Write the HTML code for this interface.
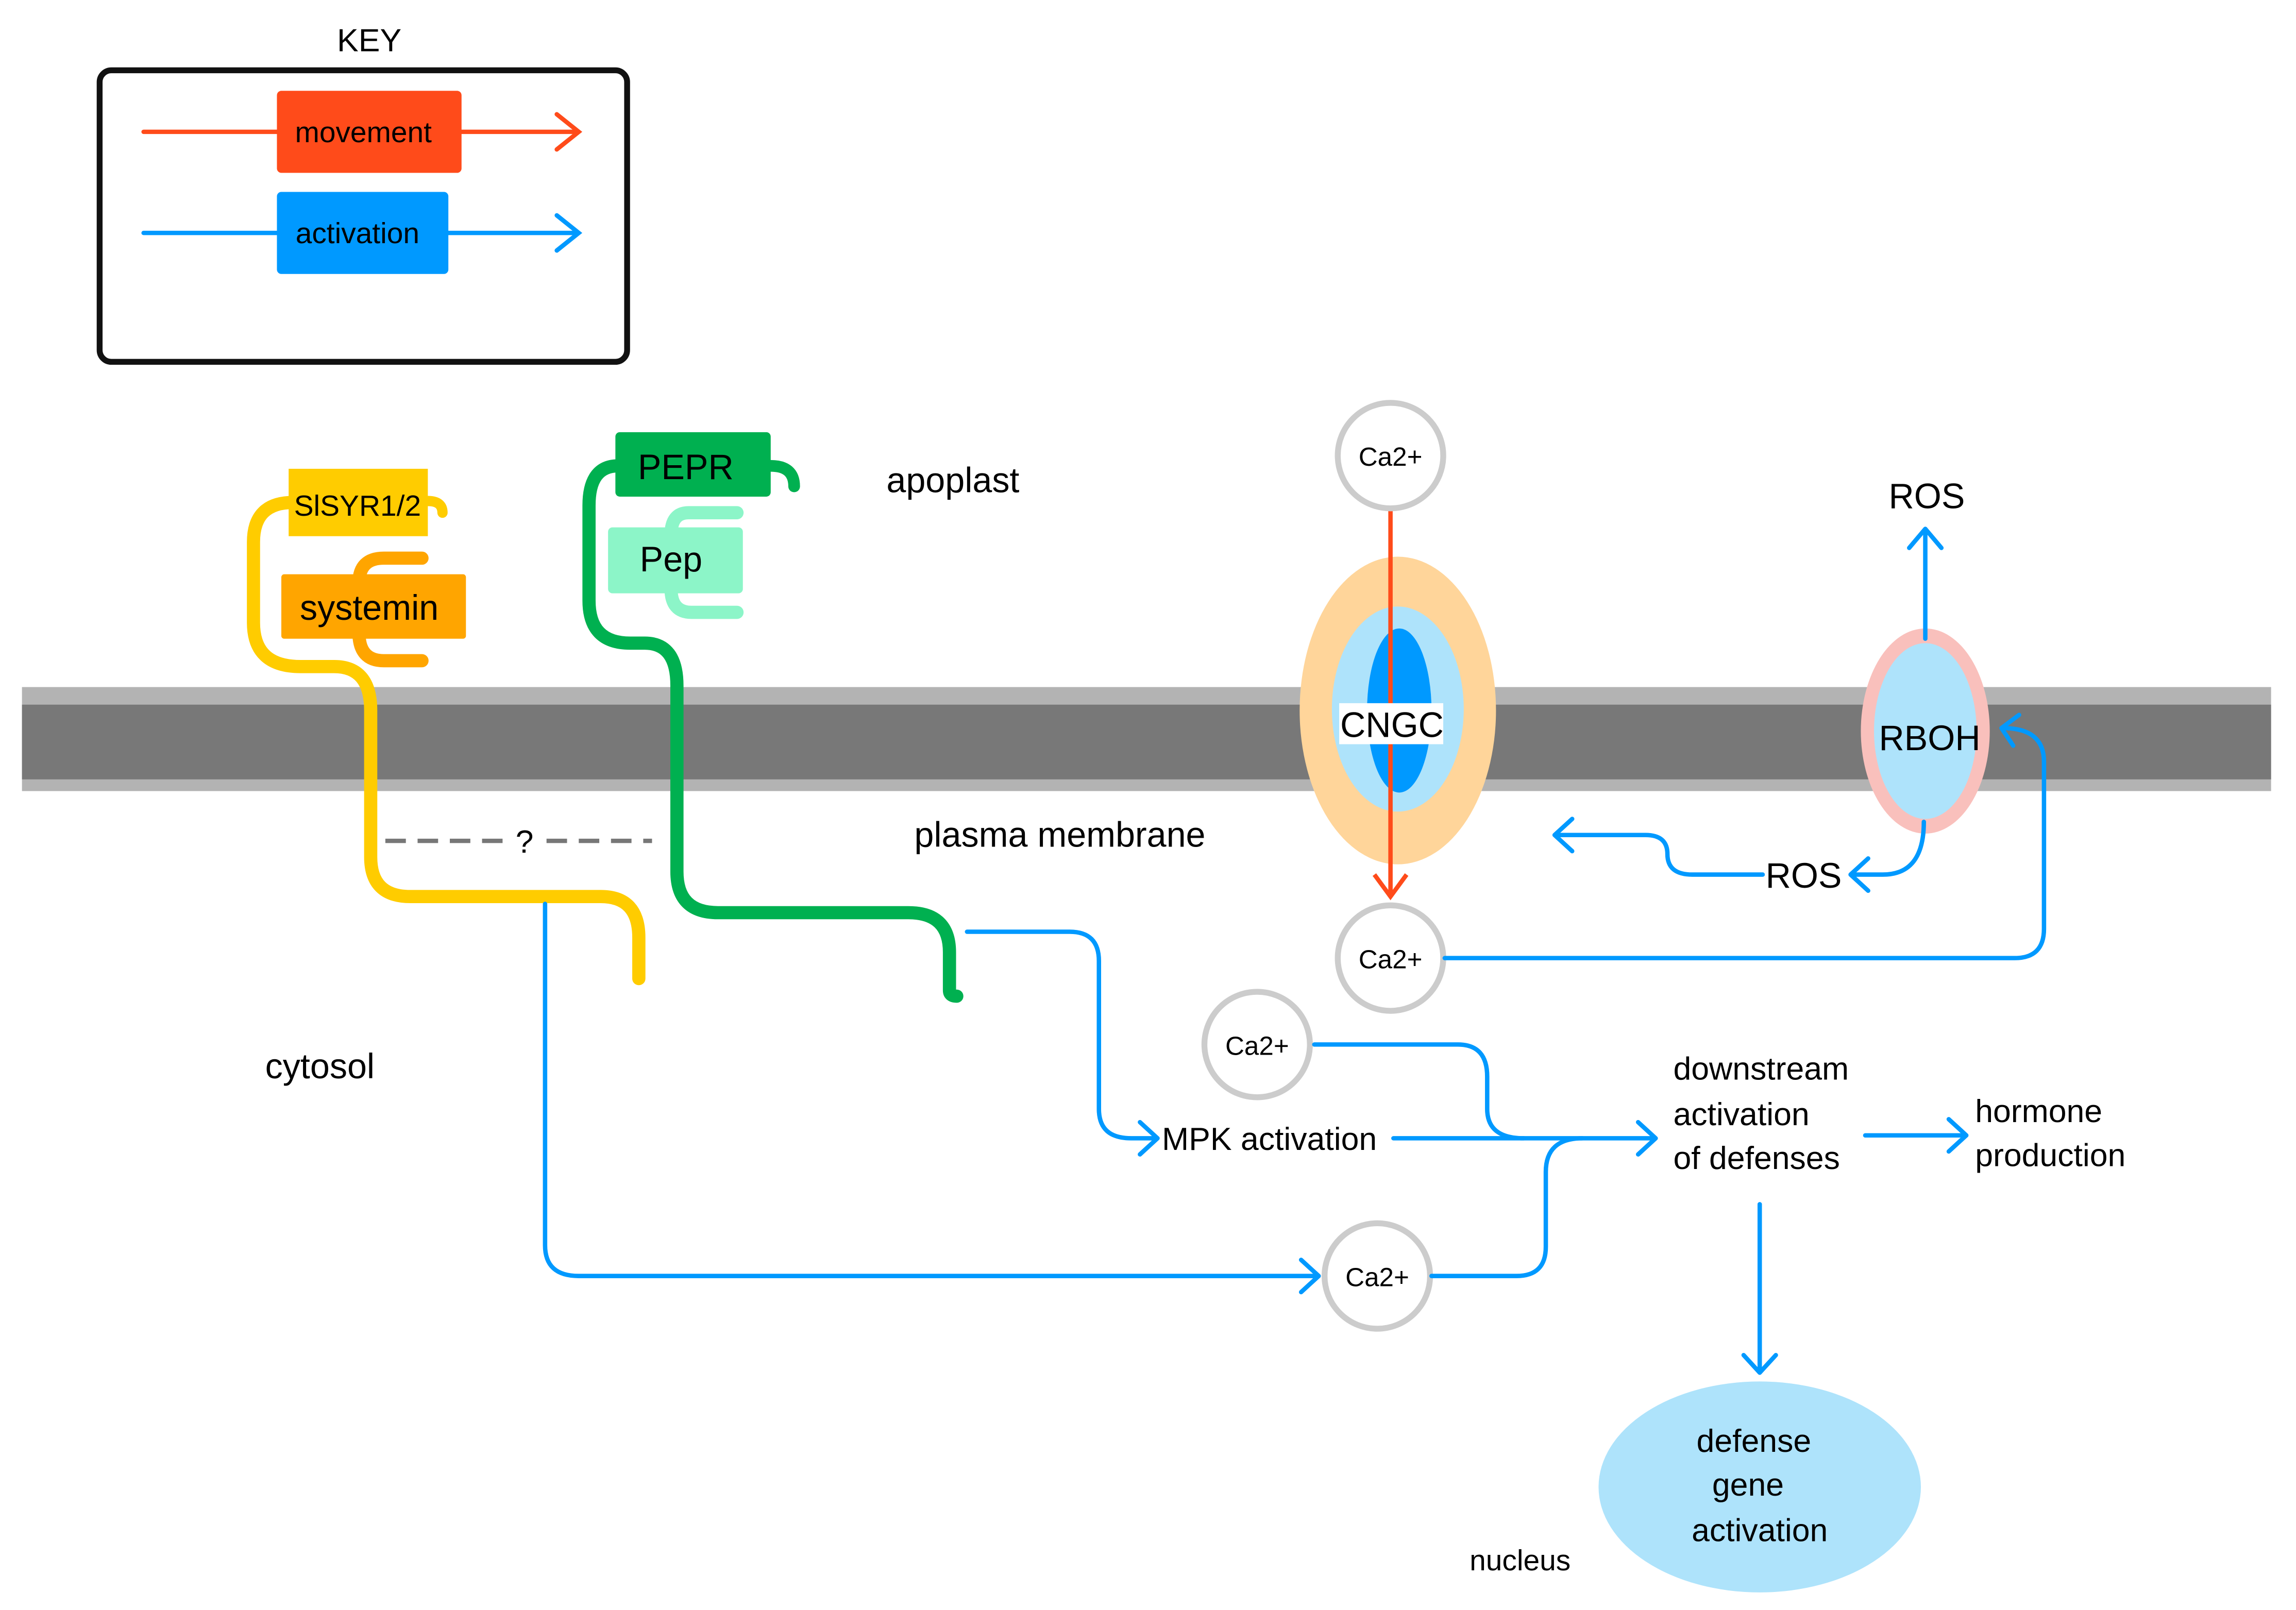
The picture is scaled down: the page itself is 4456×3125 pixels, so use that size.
<!DOCTYPE html>
<html><head><meta charset="utf-8"><style>html,body{margin:0;padding:0;background:#fff}svg{display:block}text{font-family:"Liberation Sans",sans-serif}</style></head><body>
<svg width="4456" height="3125" viewBox="0 0 1567 1099" preserveAspectRatio="none" xmlns="http://www.w3.org/2000/svg">
<rect width="1567" height="1099" fill="#fff"/>
<text x="252" y="35" font-size="22" text-anchor="middle">KEY</text>
<rect x="68" y="48" width="360" height="199" rx="8" fill="none" stroke="#111" stroke-width="4"/>
<g fill="none" stroke-width="3" stroke-linecap="round">
<path d="M98 90H395M380 78L395 90L380 102" stroke="#ff4b1a"/>
<path d="M98 159H395M380 147L395 159L380 171" stroke="#0099ff"/>
</g>
<rect x="189" y="62" width="126" height="56" rx="3" fill="#ff4b1a"/>
<text x="248" y="97" font-size="20" text-anchor="middle">movement</text>
<rect x="189" y="131" width="117" height="56" rx="3" fill="#0099ff"/>
<text x="244" y="166" font-size="20" text-anchor="middle">activation</text>
<rect x="15" y="469" width="1535" height="71" fill="#b3b3b3"/>
<rect x="15" y="481" width="1535" height="51" fill="#787878"/>
<g fill="none" stroke-linecap="round">
<path d="M200 343Q173 343 173 370V425Q173 455 205 455H228Q253 455 253 485V585Q253 612 280 612H410Q436 612 436 640V668" stroke="#ffcc00" stroke-width="9"/>
<path d="M292 342Q302 342 302 350" stroke="#ffcc00" stroke-width="7"/>
<path d="M288 381H262Q245 381 245 398M245 432Q245 451 262 451H288" stroke="#ffa500" stroke-width="9"/>
<path d="M422 318Q402 318 402 345V410Q402 439 430 439H440Q462 439 462 468V595Q462 623 490 623H620Q648 623 648 650V676Q648 680 653 680" stroke="#00b050" stroke-width="9"/>
<path d="M526 318Q542 318 542 332" stroke="#00b050" stroke-width="8"/>
<path d="M503 350H470Q458 350 458 365M458 402Q458 418 472 418H503" stroke="#8cf5c8" stroke-width="9"/>
</g>
<rect x="197" y="320" width="95" height="46" fill="#ffcc00"/>
<text x="244" y="352" font-size="20" text-anchor="middle">SlSYR1/2</text>
<rect x="192" y="392" width="126" height="44" rx="2" fill="#ffa500"/>
<text x="252" y="423" font-size="24" text-anchor="middle">systemin</text>
<rect x="420" y="295" width="106" height="44" rx="3" fill="#00b050"/>
<text x="468" y="327" font-size="24" text-anchor="middle">PEPR</text>
<rect x="415" y="360" width="92" height="45" rx="3" fill="#8cf5c8"/>
<text x="458" y="390" font-size="24" text-anchor="middle">Pep</text>
<path d="M263 574H445" stroke="#777" stroke-width="3" stroke-dasharray="14 8" fill="none"/>
<rect x="345" y="560" width="24" height="24" fill="#fff"/>
<text x="358" y="582" font-size="22" text-anchor="middle">?</text>
<text x="605" y="336" font-size="24">apoplast</text>
<text x="624" y="578" font-size="24">plasma membrane</text>
<text x="181" y="736" font-size="24">cytosol</text>
<text x="1003" y="1072" font-size="20">nucleus</text>
<ellipse cx="954" cy="485" rx="67" ry="105" fill="#ffd59a"/>
<ellipse cx="954" cy="484" rx="45" ry="70" fill="#aee3fb"/>
<ellipse cx="955" cy="485" rx="22" ry="56" fill="#0099ff"/>
<path d="M949 348V610M938 597L949 612L960 597" stroke="#ff4b1a" stroke-width="3" fill="none"/>
<rect x="914" y="480" width="71" height="28" fill="#fff"/>
<text x="950" y="503" font-size="24" text-anchor="middle">CNGC</text>
<ellipse cx="1314" cy="499" rx="44" ry="70" fill="#f9c0bc"/>
<ellipse cx="1314" cy="499" rx="35" ry="60" fill="#aee3fb"/>
<text x="1317" y="512" font-size="24" text-anchor="middle">RBOH</text>
<text x="1315" y="347" font-size="24" text-anchor="middle">ROS</text>
<text x="1231" y="606" font-size="24" text-anchor="middle">ROS</text>
<g fill="#fff" stroke="#cccccc" stroke-width="4">
<circle cx="949" cy="311" r="36"/><circle cx="949" cy="654" r="36"/>
<circle cx="858" cy="713" r="36"/><circle cx="940" cy="871" r="36"/>
</g>
<g font-size="18" text-anchor="middle">
<text x="949" y="318">Ca2+</text><text x="949" y="661">Ca2+</text>
<text x="858" y="720">Ca2+</text><text x="940" y="878">Ca2+</text>
</g>
<g fill="none" stroke="#0099ff" stroke-width="3" stroke-linecap="round" stroke-linejoin="round">
<path d="M1314 436V362M1303 374L1314 361L1325 374"/>
<path d="M1313 561Q1313 597 1285 597H1264M1275 586L1263 597L1275 608"/>
<path d="M1203 597H1155Q1138 597 1138 583Q1138 570 1123 570H1062M1073 559L1061 570L1073 581"/>
<path d="M986 654H1375Q1395 654 1395 634V520Q1395 497 1367 497M1378 488L1366 497L1374 509"/>
<path d="M660 636H730Q750 636 750 656V757Q750 777 772 777H790M778 766L790 777L778 788"/>
<path d="M951 777H1130M1118 766L1130 777L1118 788"/>
<path d="M897 713H995Q1015 713 1015 735V757Q1015 777 1040 777"/>
<path d="M977 871H1035Q1055 871 1055 851V800Q1055 777 1080 777"/>
<path d="M372 617V850Q372 871 395 871H900M888 860L900 871L888 882"/>
<path d="M1273 775H1342M1330 764L1342 775L1330 786"/>
<path d="M1201 822V937M1190 925L1201 937L1212 925"/>
</g>
<text x="793" y="785" font-size="22">MPK activation</text>
<g font-size="22"><text x="1142" y="737">downstream</text><text x="1142" y="768">activation</text><text x="1142" y="798">of defenses</text>
<text x="1348" y="766">hormone</text><text x="1348" y="796">production</text></g>
<ellipse cx="1201" cy="1015" rx="110" ry="72" fill="#aee3fb"/>
<g font-size="22" text-anchor="middle"><text x="1197" y="991">defense</text><text x="1193" y="1021">gene</text><text x="1201" y="1052">activation</text></g>
</svg>
</body></html>
